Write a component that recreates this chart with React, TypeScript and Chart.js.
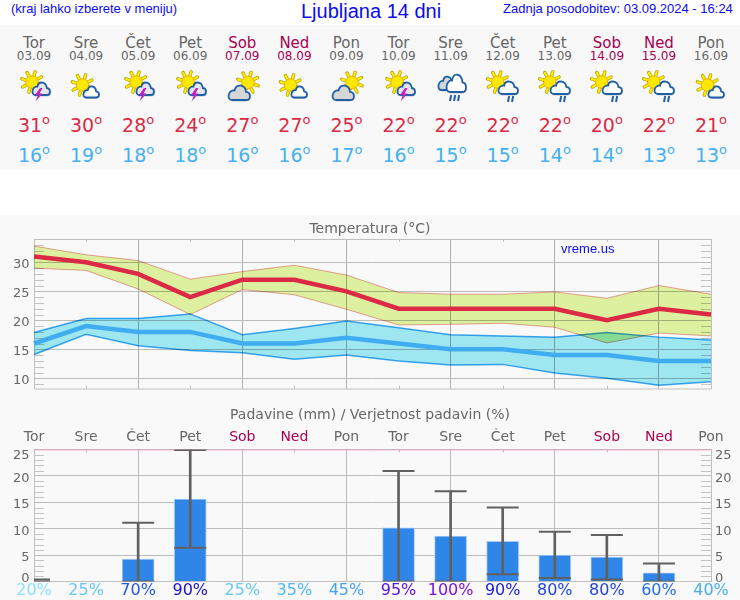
import React, { useEffect, useRef } from "react";
import { Chart, registerables } from "chart.js";

const multiplyPlugin = {
  id: "multiplyBands",
  beforeDatasetDraw(chart: any, args: any) {
    if (chart.data.datasets[args.index].multiply) chart.ctx.globalCompositeOperation = "multiply";
  },
  afterDatasetDraw(chart: any) {
    chart.ctx.globalCompositeOperation = "source-over";
  },
};
Chart.register(multiplyPlugin);
Chart.register(...registerables);

const days = ["Tor", "Sre", "Čet", "Pet", "Sob", "Ned", "Pon", "Tor", "Sre", "Čet", "Pet", "Sob", "Ned", "Pon"];
const dates = ["03.09", "04.09", "05.09", "06.09", "07.09", "08.09", "09.09", "10.09", "11.09", "12.09", "13.09", "14.09", "15.09", "16.09"];
const icons = ["storm", "sun", "storm", "storm", "cloudy", "sun", "cloudy", "storm", "rainy", "shower", "shower", "shower", "shower", "sun"];
const highs = [31, 30, 28, 24, 27, 27, 25, 22, 22, 22, 22, 20, 22, 21];
const lows = [16, 19, 18, 18, 16, 16, 17, 16, 15, 15, 14, 14, 13, 13];
const highUpper = [32.8, 31.3, 30.3, 27.1, 28.4, 29.5, 27.8, 24.8, 24.5, 24.5, 24.9, 23.8, 26.0, 24.5];
const highLower = [29.0, 28.6, 25.4, 21.0, 25.3, 24.4, 21.9, 19.2, 19.3, 19.5, 18.8, 16.1, 17.8, 17.3];
const lowUpper = [17.9, 20.3, 20.3, 21.1, 17.5, 18.6, 19.9, 18.7, 17.5, 17.3, 17.1, 17.9, 17.1, 16.6];
const lowLower = [14.1, 17.6, 15.6, 14.8, 14.4, 13.3, 14.0, 13.0, 12.3, 12.4, 10.9, 10.0, 8.8, 9.4];
const rain = [null, null, 4.25, 15.6, null, null, null, 10.15, 8.6, 7.6, 5.0, 4.6, 1.66, null];
const rainHigh = [0.4, null, 11.1, 24.9, null, null, null, 20.9, 17.1, 14.0, 9.4, 8.8, 3.4, null];
const rainLow = [0, null, 0, 6.4, null, null, null, 0, 0, 1.35, 0.66, 0.4, 0, null];
const probabilities = ["20%", "25%", "70%", "90%", "25%", "35%", "45%", "95%", "100%", "90%", "80%", "80%", "60%", "40%"];
const probColors = ["#8fe0fa", "#66c8f8", "#2458e6", "#1a10d8", "#66c8f8", "#50b4f6", "#44a4f2", "#5c14e2", "#7a12e0", "#1e22da", "#2244e2", "#2244e2", "#2470ea", "#44b0f2"];
const weekdayColor = "#666666";
const weekendColor = "#a80050";
const FONT = "'DejaVu Sans'";
const isWeekend = (i: number) => i % 7 === 4 || i % 7 === 5;

function cloudPath(x: number, y: number, w: number, h: number) {
  const px = (u: number) => (x + u * w).toFixed(1);
  const py = (v: number) => (y + v * h).toFixed(1);
  return `M${px(0.2)},${py(1)} H${px(0.82)} C${px(1.06)},${py(1)} ${px(1.06)},${py(0.5)} ${px(0.82)},${py(0.46)} C${px(0.78)},${py(-0.06)} ${px(0.36)},${py(-0.1)} ${px(0.3)},${py(0.36)} C${px(0.02)},${py(0.3)} ${px(-0.1)},${py(1)} ${px(0.2)},${py(1)} Z`;
}

function Sun({ cx, cy }: { cx: number; cy: number }) {
  const rays = [];
  for (let a = 0; a < 8; a++) {
    const t = (a * Math.PI) / 4 + 0.3;
    const c = Math.cos(t);
    const s = Math.sin(t);
    rays.push(
      <line key={a} x1={cx + 5 * c} y1={cy + 5 * s} x2={cx + 10.6 * c} y2={cy + 10.6 * s} stroke="#b8a000" strokeWidth={3.4} strokeLinecap="round" />,
      <line key={"i" + a} x1={cx + 5 * c} y1={cy + 5 * s} x2={cx + 10.4 * c} y2={cy + 10.4 * s} stroke="#fff200" strokeWidth={2} strokeLinecap="round" />
    );
  }
  return (
    <g>
      {rays}
      <circle cx={cx} cy={cy} r={6.2} fill="#ffe800" stroke="#eeb000" strokeWidth={1} />
    </g>
  );
}

function Cloud({ x, y, w, h, fill }: { x: number; y: number; w: number; h: number; fill: string }) {
  return (
    <g>
      <path d={cloudPath(x + 0.6, y + 1.4, w, h)} fill="#b4b4b4" opacity={0.7} />
      <path d={cloudPath(x, y, w, h)} fill={fill} stroke="#1f5fa8" strokeWidth={1.8} />
    </g>
  );
}

function RainLines({ x, y, n }: { x: number; y: number; n: number }) {
  const items = [];
  for (let i = 0; i < n; i++) {
    items.push(<line key={i} x1={x + i * 4 + 1.2} y1={y} x2={x + i * 4} y2={y + 6} />);
  }
  return <g stroke="#1f5fa8" strokeWidth={2}>{items}</g>;
}

function Icon({ kind }: { kind: string }) {
  let body = null;
  if (kind === "storm") {
    body = (
      <>
        <Sun cx={18} cy={14} />
        <Cloud x={18} y={14} w={18} h={13} fill="#e6e6ec" />
        <path d="M26,20 L21,27 H24 L21.5,33.5 L28.5,25.5 H25.5 L28.5,20 Z" fill="#c020c0" />
      </>
    );
  } else if (kind === "sun") {
    body = (
      <>
        <Sun cx={16.5} cy={17} />
        <Cloud x={17} y={18} w={16} h={11.5} fill="#ffffff" />
      </>
    );
  } else if (kind === "cloudy") {
    body = (
      <>
        <Sun cx={26} cy={14.5} />
        <Cloud x={6} y={17} w={22} h={15} fill="#d6d6d6" />
      </>
    );
  } else if (kind === "rainy") {
    body = (
      <>
        <Cloud x={7} y={8} w={17} h={14} fill="#d6d6d6" />
        <Cloud x={15} y={6} w={20} h={18} fill="#ffffff" />
        <RainLines x={19} y={27} n={3} />
      </>
    );
  } else {
    body = (
      <>
        <Sun cx={14.7} cy={14} />
        <Cloud x={15} y={13} w={20} h={13} fill="#ffffff" />
        <RainLines x={25} y={28} n={2} />
      </>
    );
  }
  return (
    <svg width={40} height={38} viewBox="0 0 40 38" style={{ display: "block" }}>
      {body}
    </svg>
  );
}

const frameAndMinorTicks = {
  id: "frameTicks",
  beforeDatasetsDraw(chart: any, _a: any, opts: any) {
    const { ctx, chartArea: ca, scales } = chart;
    const y = scales.y;
    const x = scales.x;
    ctx.save();
    ctx.lineWidth = 1;
    ctx.strokeStyle = "#c4c4c4";
    ctx.beginPath();
    for (let v = Math.ceil(opts.min); v <= Math.floor(opts.max); v++) {
      if (v % 5 === 0) continue;
      const py = Math.round(y.getPixelForValue(v)) + 0.5;
      ctx.moveTo(ca.left, py);
      ctx.lineTo(ca.left + 10, py);
      ctx.moveTo(ca.right - 10, py);
      ctx.lineTo(ca.right, py);
    }
    ctx.stroke();
    ctx.strokeStyle = "#c0c0c0";
    ctx.beginPath();
    ctx.moveTo(ca.left + 0.5, ca.top);
    ctx.lineTo(ca.left + 0.5, ca.bottom);
    ctx.lineTo(ca.right + 0.5, ca.bottom);
    ctx.lineTo(ca.right + 0.5, ca.top);
    ctx.stroke();
    ctx.strokeStyle = opts.topColor;
    ctx.beginPath();
    ctx.moveTo(ca.left, ca.top + 0.5);
    ctx.lineTo(ca.right + 1, ca.top + 0.5);
    x.ticks.forEach((_t: any, i: number) => {
      const px = Math.round(x.getPixelForTick(i)) + 0.5;
      if (i % 2 === 1) {
        ctx.moveTo(px, ca.top);
        ctx.lineTo(px, ca.top + 3);
      }
    });
    ctx.stroke();
    ctx.strokeStyle = "#c0c0c0";
    ctx.beginPath();
    x.ticks.forEach((_t: any, i: number) => {
      const px = Math.round(x.getPixelForTick(i)) + 0.5;
      if (i % 2 === 1 && opts.bottomTicks) {
        ctx.moveTo(px, ca.bottom);
        ctx.lineTo(px, ca.bottom - 3);
      }
    });
    ctx.stroke();
    ctx.restore();
  },
};

const axisLabels = {
  id: "axisLabels",
  afterDraw(chart: any, _a: any, opts: any) {
    const { ctx, chartArea: ca, scales } = chart;
    ctx.save();
    ctx.font = `13px ${FONT}`;
    ctx.fillStyle = "#666666";
    ctx.textBaseline = "middle";
    scales.y.ticks.forEach((t: any) => {
      if (t.value % 5 !== 0) return;
      const py = Math.min(ca.bottom - 3, Math.max(ca.top + 6.7, scales.y.getPixelForValue(t.value) + 2.8));
      ctx.textAlign = "right";
      ctx.fillText(String(t.value), 29.5, py);
      if (opts.both) {
        ctx.textAlign = "left";
        ctx.fillText(String(t.value), 715, py);
      }
    });
    ctx.restore();
  },
};

function TempChart() {
  const ref = useRef<HTMLCanvasElement>(null);
  useEffect(() => {
    const yMin = 8.155;
    const yMax = 34.02;
    const bandBase = { pointRadius: 0, tension: 0, multiply: true, order: 1 };
    const chart = new Chart(ref.current!, {
      type: "line",
      data: {
        labels: days,
        datasets: [
          { ...bandBase, data: highUpper, fill: "+1", backgroundColor: "#dcf0a0", borderColor: "#f0a0a0", borderWidth: 1 },
          { ...bandBase, data: highLower, fill: false, borderColor: "#f0a0a0", borderWidth: 1 },
          { ...bandBase, data: lowUpper, fill: "+1", backgroundColor: "#9ee6f0", borderColor: "#3fa8f4", borderWidth: 1.5 },
          { ...bandBase, data: lowLower, fill: false, borderColor: "#3fa8f4", borderWidth: 1.5 },
          { data: highs, borderColor: "#dc2a46", borderWidth: 4.5, pointRadius: 0, tension: 0, fill: false, order: 0, borderJoinStyle: "miter" },
          { data: lows, borderColor: "#3fadf0", borderWidth: 4.5, pointRadius: 0, tension: 0, fill: false, order: 0, borderJoinStyle: "miter" },
        ] as any,
      },
      options: {
        animation: false,
        responsive: false,
        devicePixelRatio: 1,
        layout: { padding: { bottom: 11 } },
        plugins: {
          legend: { display: false },
          tooltip: { enabled: false },
          title: {
            display: true,
            text: "Temperatura (°C)",
            color: "#666666",
            font: { family: FONT, size: 14, weight: "normal" },
            padding: { top: 6, bottom: 1.2 },
          },
          frameTicks: { min: yMin, max: yMax, topColor: "#c0c0c0", bottomTicks: true },
          axisLabels: { both: false },
        },
        scales: {
          x: {
            type: "category",
            offset: false,
            ticks: { display: false, autoSkip: false },
            border: { display: false },
            grid: {
              drawTicks: false,
              offset: false,
              color: (c: any) => (c.index % 2 === 0 && c.index > 0 && c.index < 13 ? "#b0b0b0" : "transparent"),
            },
          },
          y: {
            min: yMin,
            max: yMax,
            afterFit: (s: any) => { s.width = 34; },
            border: { display: false },
            grid: { drawTicks: false, color: "#bcbcbc" },
            ticks: { display: false, stepSize: 5, autoSkip: false, includeBounds: false },
          },
          y2: {
            position: "right",
            min: yMin,
            max: yMax,
            afterFit: (s: any) => { s.width = 29; },
            border: { display: false },
            grid: { display: false, drawTicks: false },
            ticks: { display: false },
          },
        },
      } as any,
      plugins: [frameAndMinorTicks, axisLabels],
    });
    return () => chart.destroy();
  }, []);
  return <canvas ref={ref} width={740} height={185} style={{ position: "absolute", left: 0, top: 215, display: "block" }} />;
}

function RainChart() {
  const ref = useRef<HTMLCanvasElement>(null);
  useEffect(() => {
    const capBase = { type: "line", showLine: false, pointStyle: "line", pointRadius: 16, pointBorderWidth: 2, pointBorderColor: "#606060", order: 0, spanGaps: false, clip: 0 };
    const chart = new Chart(ref.current!, {
      type: "bar",
      data: {
        labels: days,
        datasets: [
          { ...capBase, data: rainHigh },
          { ...capBase, data: rainLow },
          { data: rainHigh.map((h, i) => (h === null ? null : [rainLow[i], h])), backgroundColor: "#606060", barThickness: 2, grouped: false, order: 1 },
          { data: rain, backgroundColor: "#2f86e8", borderColor: "#a4cbf4", borderWidth: { top: 1, left: 1, right: 1, bottom: 0 }, barThickness: 32, grouped: false, order: 2 },
        ] as any,
      },
      options: {
        animation: false,
        responsive: false,
        devicePixelRatio: 1,
        plugins: {
          legend: { display: false },
          tooltip: { enabled: false },
          title: {
            display: true,
            text: "Padavine (mm) / Verjetnost padavin (%)",
            color: "#666666",
            font: { family: FONT, size: 14, weight: "normal" },
            padding: { top: 6.6, bottom: 5 },
          },
          frameTicks: { min: 0, max: 25, topColor: "#e4a8c4", bottomTicks: false },
          axisLabels: { both: true },
        },
        scales: {
          x: {
            type: "category",
            position: "top",
            offset: false,
            afterFit: (s: any) => { s.height = 21; },
            border: { display: false },
            grid: {
              drawTicks: false,
              offset: false,
              color: (c: any) => (c.index % 2 === 0 && c.index > 0 && c.index < 13 ? "#bcbcbc" : "transparent"),
            },
            ticks: {
              autoSkip: false,
              maxRotation: 0,
              padding: 4,
              font: { family: FONT, size: 14 },
              color: (c: any) => (isWeekend(c.index) ? weekendColor : weekdayColor),
            },
          },
          x2: {
            type: "category",
            position: "bottom",
            labels: probabilities,
            offset: false,
            afterFit: (s: any) => { s.height = 18.5; },
            border: { display: false },
            grid: { display: false, drawTicks: false, offset: false },
            ticks: {
              autoSkip: false,
              maxRotation: 0,
              padding: 0,
              font: { family: FONT, size: 16 },
              color: (c: any) => probColors[c.index],
            },
          },
          y: {
            min: 0,
            max: 25,
            afterFit: (s: any) => { s.width = 34; },
            border: { display: false },
            grid: { drawTicks: false, color: "#bcbcbc" },
            ticks: { display: false, stepSize: 5 },
          },
          y2: {
            position: "right",
            min: 0,
            max: 25,
            afterFit: (s: any) => { s.width = 29; },
            border: { display: false },
            grid: { display: false, drawTicks: false },
            ticks: { display: false, stepSize: 5 },
          },
        },
      } as any,
      plugins: [frameAndMinorTicks, axisLabels],
    });
    return () => chart.destroy();
  }, []);
  return <canvas ref={ref} width={740} height={200} style={{ position: "absolute", left: 0, top: 400, display: "block" }} />;
}

const topText = (left: number, top: number, size: number): React.CSSProperties => ({
  position: "absolute",
  left,
  top,
  fontFamily: "'Liberation Sans'",
  fontSize: size,
  lineHeight: "16px",
  color: "#0c0cf2",
  whiteSpace: "nowrap",
});

const centered = (cx: number, top: number, size: number, color: string): React.CSSProperties => ({
  position: "absolute",
  left: cx - 40,
  width: 80,
  top,
  textAlign: "center",
  fontFamily: FONT,
  fontSize: size,
  lineHeight: "20px",
  color,
  whiteSpace: "nowrap",
});

function Degrees({ value, cx, top, color }: { value: number; cx: number; top: number; color: string }) {
  return (
    <div style={centered(cx, top, 19, color)}>
      {value}
      <span style={{ fontSize: 13, position: "relative", top: -8, lineHeight: 0 }}>o</span>
    </div>
  );
}

export default function App() {
  return (
    <div style={{ position: "absolute", left: 0, top: 0, width: 740, height: 600, background: "#fff", overflow: "hidden" }}>
      <div style={{ position: "absolute", left: 0, top: 25, width: 740, height: 145, background: "#f8f8f8" }} />
      <div style={{ position: "absolute", left: 0, top: 215, width: 740, height: 385, background: "#f9f9f9" }} />
      <div style={topText(11, 1, 13)}>(kraj lahko izberete v meniju)</div>
      <div style={{ ...topText(301, 1, 20), lineHeight: "20px" }}>Ljubljana 14 dni</div>
      <div style={topText(503, 1, 13)}>Zadnja posodobitev: 03.09.2024 - 16:24</div>
      {days.map((d, i) => {
        const cx = 34 + i * 52.077;
        const col = isWeekend(i) ? weekendColor : weekdayColor;
        return (
          <React.Fragment key={i}>
            <div style={centered(cx, 33, 15, col)}>{d}</div>
            <div style={centered(cx, 46, 12, col)}>{dates[i]}</div>
            <div style={{ position: "absolute", left: cx - 20, top: 68 }}>
              <Icon kind={icons[i]} />
            </div>
            <Degrees value={highs[i]} cx={cx} top={115} color="#dc2a46" />
            <Degrees value={lows[i]} cx={cx} top={145} color="#44b0f2" />
          </React.Fragment>
        );
      })}
      <TempChart />
      <RainChart />
      <div style={{ ...topText(561, 241, 13), zIndex: 2 }}>vreme.us</div>
    </div>
  );
}
